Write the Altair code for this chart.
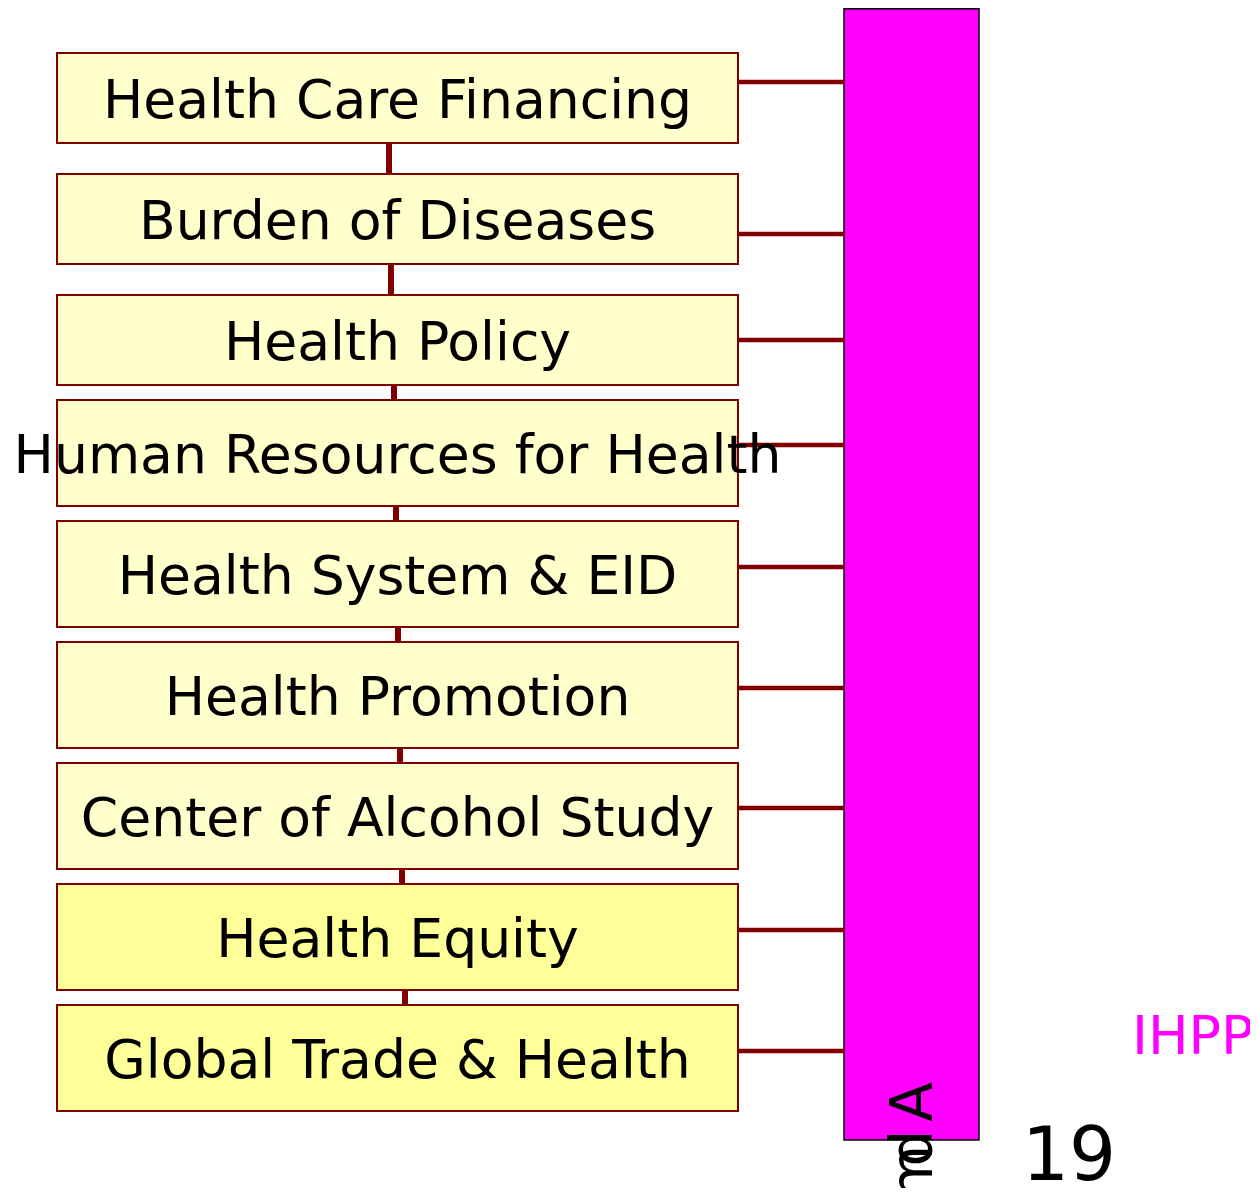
import altair as alt
import pandas as pd

# ---- content ----
labels = [
    "Health Care Financing",
    "Burden of Diseases",
    "Health Policy",
    "Human Resources for Health",
    "Health System & EID",
    "Health Promotion",
    "Center of Alcohol Study",
    "Health Equity",
    "Global Trade & Health",
]
box_fill = ["#FFFFCC"] * 7 + ["#FFFF99"] * 2

# ---- layout (diagram units = pixels) ----
box_top = [53, 174, 295, 400, 521, 642, 763, 884, 1005]
box_bottom = [143, 264, 385, 506, 627, 748, 869, 990, 1111]
link_y = [82, 234, 340, 445, 567, 688, 808, 930, 1051]
stem_x = [389, 391, 394, 396, 398, 400, 402, 405]
box_left, box_right = 57, 738
bar_left, bar_right, bar_top, bar_bottom = 844, 979, 8.8, 1140

side_text = ["A", "d", "m"]
side_y = [1102, 1148, 1173]
side_x = 914.5

FONT = "DejaVu Sans"
DARK = "#800000"

boxes = pd.DataFrame({
    "label": labels,
    "x": [box_left] * 9,
    "x2": [box_right] * 9,
    "y": box_top,
    "y2": box_bottom,
    "fill": box_fill,
    "cx": [(box_left + box_right) / 2] * 9,
    "cy": [(t + b) / 2 + 4 for t, b in zip(box_top, box_bottom)],
})
links = pd.DataFrame({"x": [box_right] * 9, "x2": [bar_left] * 9, "y": link_y})
stems = pd.DataFrame({"x": stem_x, "y": box_bottom[:-1], "y2": box_top[1:]})
bar = pd.DataFrame({"x": [bar_left], "x2": [bar_right], "y": [bar_top], "y2": [bar_bottom]})
side = pd.DataFrame({"t": side_text, "x": [side_x] * 3, "y": side_y})
num = pd.DataFrame({"t": ["19"], "x": [1069], "y": [1158]})
tag = pd.DataFrame({"t": ["IHPP"], "x": [1132], "y": [1038]})

# page is 1258x1196 with an 8px margin -> drawing area 1242x1180
xs = alt.Scale(domain=[8, 1250], nice=False, zero=False)
ys = alt.Scale(domain=[8, 1188], nice=False, zero=False, reverse=True)


def X(f="x"):
    return alt.X(f"{f}:Q", scale=xs, axis=None)


def Y(f="y"):
    return alt.Y(f"{f}:Q", scale=ys, axis=None)


bar_layer = alt.Chart(bar).mark_rect(fill="#FF00FF", stroke="#000000", strokeWidth=1.5).encode(
    x=X(), x2="x2:Q", y=Y(), y2="y2:Q")

link_layer = alt.Chart(links).mark_rule(color=DARK, strokeWidth=4.5).encode(
    x=X(), x2="x2:Q", y=Y())

stem_layer = alt.Chart(stems).mark_rule(color=DARK, strokeWidth=6).encode(
    x=X(), y=Y(), y2="y2:Q")

box_layer = alt.Chart(boxes).mark_rect(stroke=DARK, strokeWidth=2).encode(
    x=X(), x2="x2:Q", y=Y(), y2="y2:Q",
    fill=alt.Fill("fill:N", scale=None))

label_layer = alt.Chart(boxes).mark_text(
    font=FONT, fontSize=53.6, color="#000000", align="center", baseline="middle").encode(
    x=X("cx"), y=Y("cy"), text="label:N")

side_layer = alt.Chart(side).mark_text(
    font=FONT, fontSize=58, color="#000000", align="center", baseline="middle", angle=270).encode(
    x=X(), y=Y(), text="t:N")

num_layer = alt.Chart(num).mark_text(
    font=FONT, fontSize=74, color="#000000", align="center", baseline="middle").encode(
    x=X(), y=Y(), text="t:N")

tag_layer = alt.Chart(tag).mark_text(
    font=FONT, fontSize=54, color="#FF00FF", align="left", baseline="middle").encode(
    x=X(), y=Y(), text="t:N")

chart = alt.layer(
    bar_layer, link_layer, stem_layer, box_layer, label_layer, side_layer, num_layer, tag_layer
).properties(
    width=1242, height=1180, padding=0,
    autosize=alt.AutoSizeParams(type="none"),
    background="#FFFFFF",
).configure_view(stroke=None)

chart.save("out.html", embed_options={"renderer": "svg", "actions": False})
